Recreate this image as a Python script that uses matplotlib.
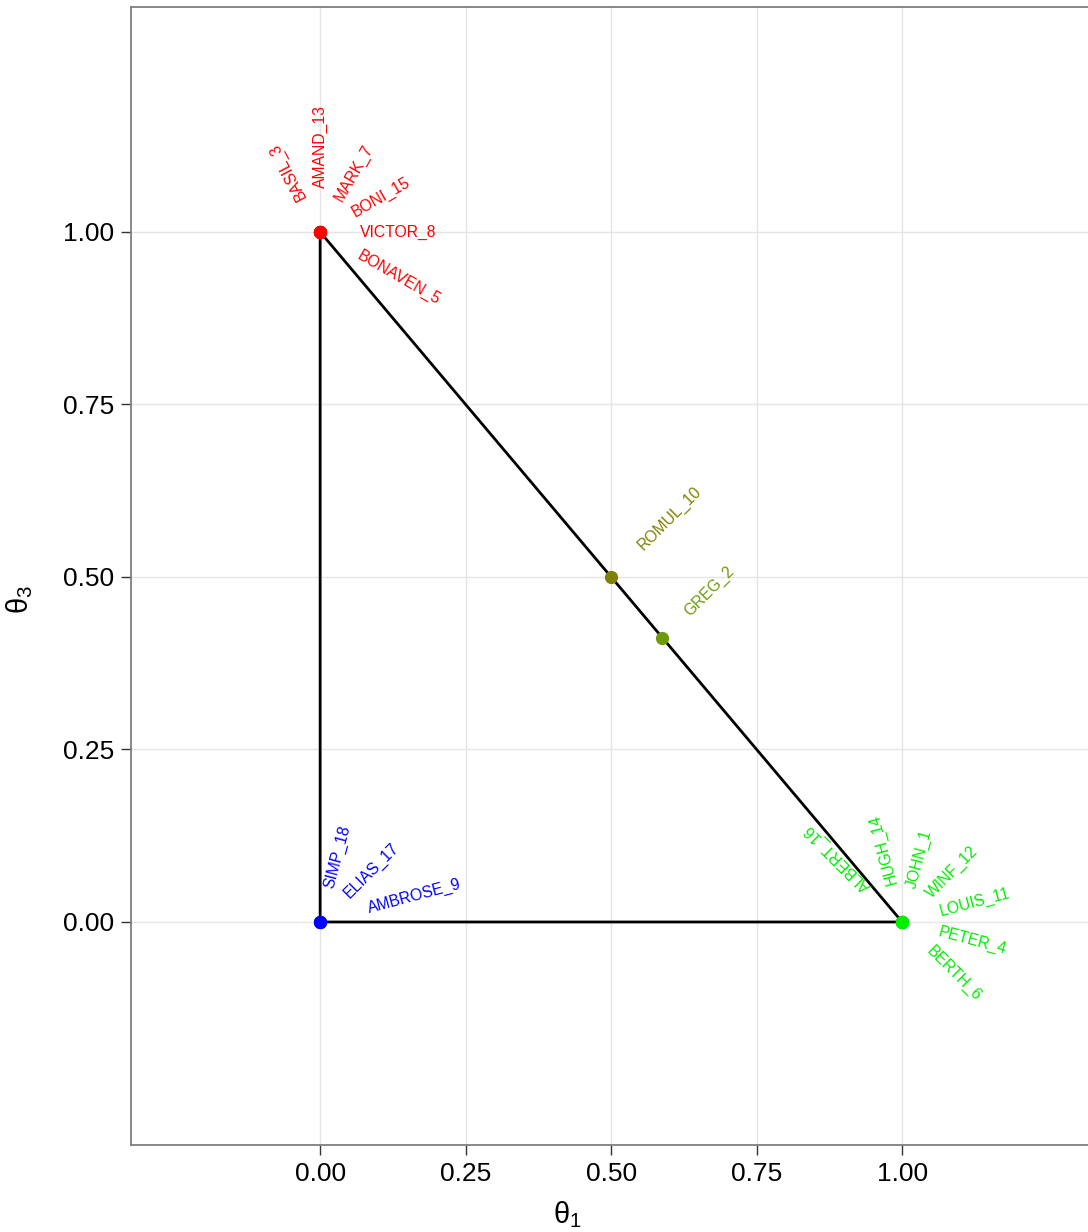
import matplotlib
matplotlib.use("Agg")
import matplotlib.pyplot as plt
import numpy as np

plt.rcParams['font.family'] = ['Liberation Sans', 'DejaVu Sans']

# Positions des points sur le simplexe (theta1, theta3)
names = ["BASIL_3", "AMAND_13", "MARK_7", "BONI_15", "VICTOR_8", "BONAVEN_5",
         "SIMP_18", "ELIAS_17", "AMBROSE_9",
         "ALBERT_16", "HUGH_14", "JOHN_1", "WINF_12", "LOUIS_11", "PETER_4", "BERTH_6",
         "ROMUL_10", "GREG_2"]
theta1 = [0, 0, 0, 0, 0, 0,
          0, 0, 0,
          1, 1, 1, 1, 1, 1, 1,
          0.5, 0.588]
theta3 = [1, 1, 1, 1, 1, 1,
          0, 0, 0,
          0, 0, 0, 0, 0, 0, 0,
          0.5, 0.412]
colors = ["#ff0000"] * 6 + ["#0000ff"] * 3 + ["#00ee00"] * 7 + ["#808000", "#6e9a0a"]

# angle et distance des étiquettes (en pixels)
label_angle = [118, 90, 60, 30, 0, -30,
               75, 45, 15,
               135, 105, 75, 45, 15, -15, -45,
               45, 45]
label_dist = [38, 44, 37, 38, 40, 44,
              35, 37, 50,
              47, 39, 35, 37, 39, 38, 38,
              41, 34]

triangle_x = [0, 1, 0, 0]
triangle_y = [0, 0, 1, 0]

ticks = [0, 0.25, 0.5, 0.75, 1.0]
tick_labels = ["0.00", "0.25", "0.50", "0.75", "1.00"]

W, H = 1088, 1232
fig = plt.figure(figsize=(W / 100, H / 100), dpi=100)
ax = fig.add_axes([131 / W, (H - 1145) / H, 960 / W, 1138 / H])
ax.set_xlim(-0.325, 1.3245)
ax.set_ylim(-0.3232, 1.326)

ax.set_xticks(ticks)
ax.set_xticklabels(tick_labels)
ax.set_yticks(ticks)
ax.set_yticklabels(tick_labels)
ax.tick_params(labelsize=19, length=7, width=1, color="#333333", labelcolor="black", pad=5)
ax.grid(True, color="#e5e5e5", linewidth=1)
ax.set_axisbelow(True)
for s in ax.spines.values():
    s.set_color("#7f7f7f")
    s.set_linewidth(1.3)

ax.plot(triangle_x, triangle_y, color="black", linewidth=2.0, zorder=2)

for i in range(len(names)):
    ax.plot(theta1[i], theta3[i], "o", color=colors[i], markersize=8.5, zorder=3)
    a = np.deg2rad(label_angle[i])
    d = label_dist[i]
    ax.annotate(names[i], (theta1[i], theta3[i]),
                xytext=(d * np.cos(a), d * np.sin(a)), textcoords="offset pixels",
                ha="left", va="center", rotation=label_angle[i], rotation_mode="anchor",
                color=colors[i], fontsize=11.3, zorder=4)

fig.text(567 / W, 1 - 1215 / H, r"$\mathregular{\theta_1}$", ha="center", va="center", fontsize=21)
fig.text(20 / W, 1 - 600 / H, r"$\mathregular{\theta_3}$", ha="center", va="center", fontsize=21, rotation=90)

plt.savefig("out.png", dpi=100)
